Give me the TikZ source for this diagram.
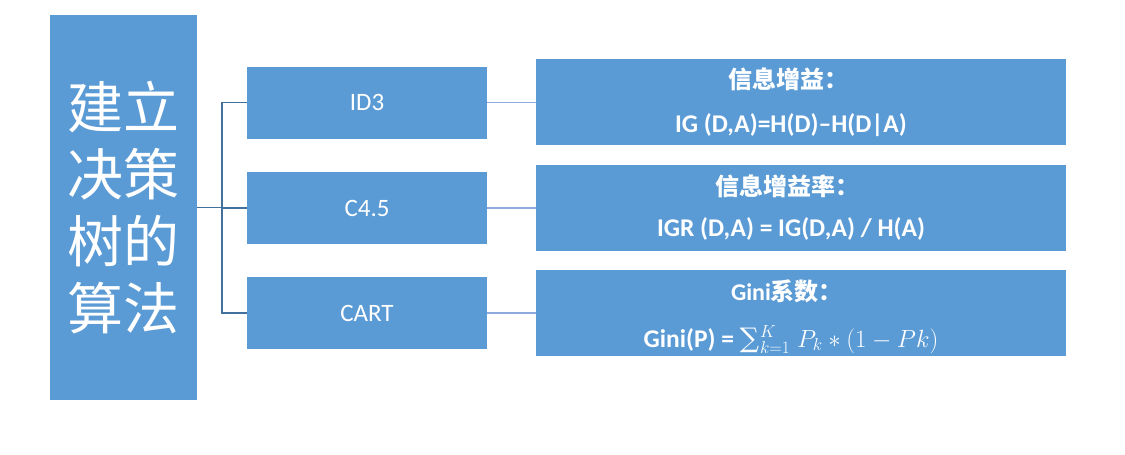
\documentclass[tikz,border=0pt]{standalone}
\usepackage{amsmath}
\usepackage{fontspec}
\setmainfont{Carlito}
\newfontfamily\cjk{Noto Sans CJK SC}
\newfontfamily\symfont{DejaVu Serif}
\definecolor{boxblue}{HTML}{5B9BD5}
\definecolor{linkdark}{HTML}{41719C}
\definecolor{linklight}{HTML}{8FAADC}
\tikzset{
  bluebox/.style={draw=none, fill=boxblue, inner sep=0pt, text=white},
  midbox/.style={bluebox, minimum width=240pt, minimum height=72pt, font=\fontsize{25}{30}\selectfont},
  rightbox/.style={bluebox, minimum width=530pt, minimum height=86pt},
  titletext/.style={text=white, inner sep=0pt, font=\fontsize{24}{28}\selectfont\cjk\bfseries},
  formtext/.style={text=white, inner sep=0pt, font=\fontsize{25.5}{30}\selectfont\bfseries},
  linkA/.style={draw=linkdark, line width=1.3pt},
  linkB/.style={draw=linklight, line width=1.3pt}
}
\begin{document}
\begin{tikzpicture}[x=1pt,y=-1pt]
\useasboundingbox (0,0) rectangle (1125,455);
% left box
\node[bluebox, minimum width=147pt, minimum height=385pt, align=center,
      font=\fontsize{56}{67}\selectfont\cjk] (root) at (123.5,207.5)
      {建立\\决策\\树的\\算法};
% middle boxes
\node[midbox] (id3) at (367,102.5) {ID3};
\node[midbox] (c45) at (367,208) {C4.5};
\node[midbox] (cart) at (367,313) {CART};
% right boxes
\node[rightbox] (ig) at (801,101.5) {};
\node[rightbox] (igr) at (801,208) {};
\node[rightbox] (gini) at (801,313) {};
% texts in right boxes
\node[titletext] (igt) at (788,79) {信息增益：};
\node[titletext] (igrt) at (787,186) {信息增益率：};
\node[titletext, font=\fontsize{24}{28}\selectfont] (ginit) at (787,291) {\textbf{Gini}{\cjk\bfseries 系数：}};
\node[formtext] (igf) at (791,125) {IG (D,A)=H(D)–H(D|A)};
\node[formtext] (igrf) at (791,229) {IGR (D,A) = IG(D,A) / H(A)};
\node[formtext, anchor=base] (ginif) at (791,347)
     {Gini(P) = {\symfont\mdseries\fontsize{27}{30}\selectfont ∑}\kern1pt$_{k=1}^{K}\;P_k * (1 - Pk)$};
% connectors
\coordinate (j) at (222,207.5);
\draw[linkA] (root.east |- j) -- (j);
\draw[linkA] (j) |- (id3.west);
\draw[linkA] (j) |- (cart.west);
\draw[linkA] (j) |- (c45.west);
\draw[linkB] (id3.east) -- (id3.east -| ig.west);
\draw[linkB] (c45.east) -- (c45.east -| igr.west);
\draw[linkB] (cart.east) -- (cart.east -| gini.west);
\end{tikzpicture}
\end{document}
